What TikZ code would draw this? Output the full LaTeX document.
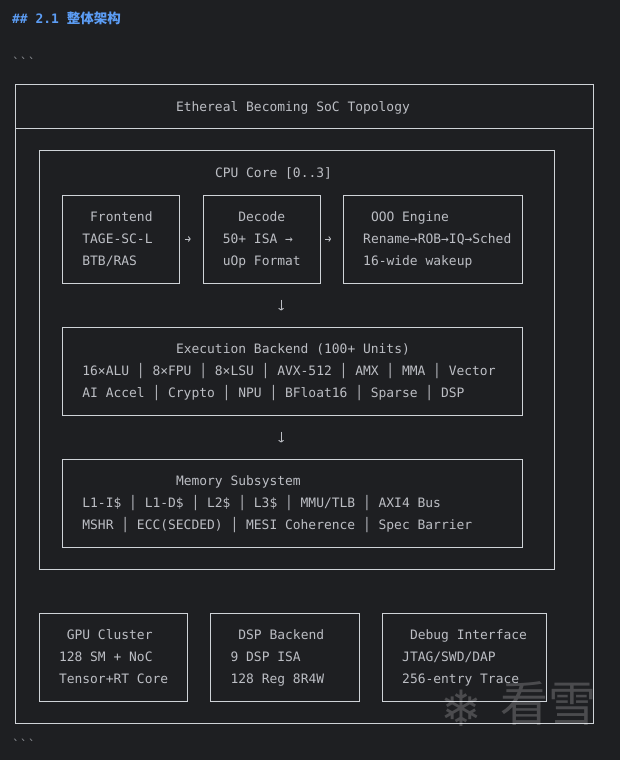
\documentclass[tikz,border=0pt]{standalone}
\usepackage{fontspec}
\setmonofont{DejaVu Sans Mono}
\newfontfamily\cjkfont{Noto Sans CJK SC}
\newfontfamily\symfont{DejaVu Sans}
\usetikzlibrary{arrows.meta}

\definecolor{bgdark}{HTML}{1E1F22}
\definecolor{boxline}{HTML}{CFD3D8}
\definecolor{txtgray}{HTML}{BCBEC4}
\definecolor{tickgray}{HTML}{8A8D92}
\definecolor{headblue}{HTML}{5C9DF5}

\tikzset{
  box/.style={draw=boxline, line width=1pt, inner sep=0pt},
  txt/.style={anchor=west, inner sep=0pt, text=txtgray,
    font=\ttfamily\fontsize{12.95}{15}\selectfont, text height=9.4pt, text depth=0pt},
  arr/.style={draw=txtgray, line width=0.9pt, -{To[length=2.6pt,width=5.5pt]}},
}

% box on the character grid: name, first col, last col, top row, bottom row
\newcommand{\asciibox}[5]{%
  \node[box, minimum width={(#3-#2)*7.8pt}, minimum height={(#5-#4)*22pt}]
    (#1) at ({(#2+#3)/2},{(#4+#5)/2}) {};}

\begin{document}
\begin{tikzpicture}[x=7.8pt, y=-22pt]
\fill[bgdark] (-15.9pt,85pt) rectangle (604.1pt,-675pt);
\useasboundingbox (-15.9pt,85pt) rectangle (604.1pt,-675pt);

% heading and fences
\node[txt, text=headblue, font=\ttfamily\bfseries\fontsize{12.95}{15}\selectfont] (head) at (-0.5,-3)
  {\#\# 2.1 {\cjkfont\bfseries\fontsize{13.5}{15}\selectfont 整体架构}};
\node[txt, text=tickgray] (fence1) at (-0.5,-1) {\textasciigrave\textasciigrave\textasciigrave};
\node[txt, text=tickgray] (fence2) at (-0.5,30) {\textasciigrave\textasciigrave\textasciigrave};

% outer frame
\asciibox{soc}{0}{74}{0}{29}
\draw[boxline, line width=1pt] (soc.west |- 0,2) -- (soc.east |- 0,2);
\node[txt] (title) at (20.5,1) {Ethereal Becoming SoC Topology};

% cpu core
\asciibox{cpu}{3}{69}{3}{22}
\node[txt] (cpuname) at (25.5,4) {CPU Core [0..3]};

\asciibox{front}{6}{21}{5}{9}
\node[txt] (fe1) at (9.5,6) {Frontend};
\node[txt] (fe2) at (8.5,7) {TAGE-SC-L};
\node[txt] (fe3) at (8.5,8) {BTB/RAS};

\asciibox{dec}{24}{39}{5}{9}
\node[txt] (de1) at (28.5,6) {Decode};
\node[txt] (de2) at (26.5,7) {50+ ISA →};
\node[txt] (de3) at (26.5,8) {uOp Format};

\asciibox{ooo}{42}{65}{5}{9}
\node[txt] (oo1) at (45.5,6) {OOO Engine};
\node[txt] (oo2) at (44.5,7) {Rename→ROB→IQ→Sched};
\node[txt] (oo3) at (44.5,8) {16-wide wakeup};

\draw[arr, shorten <=4.3pt, shorten >=12pt] (front.east) -- (dec.west);
\draw[arr, shorten <=4.3pt, shorten >=12pt] (dec.east) -- (ooo.west);

\asciibox{exec}{6}{65}{11}{15}
\node[txt] (ex1) at (20.5,12) {Execution Backend (100+ Units)};
\node[txt] (ex2) at (8.5,13) {16×ALU │ 8×FPU │ 8×LSU │ AVX-512 │ AMX │ MMA │ Vector};
\node[txt] (ex3) at (8.5,14) {AI Accel │ Crypto │ NPU │ BFloat16 │ Sparse │ DSP};

\asciibox{mem}{6}{65}{17}{21}
\node[txt] (me1) at (20.5,18) {Memory Subsystem};
\node[txt] (me2) at (8.5,19) {L1-I\$ │ L1-D\$ │ L2\$ │ L3\$ │ MMU/TLB │ AXI4 Bus};
\node[txt] (me3) at (8.5,20) {MSHR │ ECC(SECDED) │ MESI Coherence │ Spec Barrier};

\coordinate (down) at (34,0);
\draw[arr, shorten <=16pt, shorten >=16pt] (down |- dec.south) -- (down |- exec.north);
\draw[arr, shorten <=16pt, shorten >=16pt] (down |- exec.south) -- (down |- mem.north);

% blocks outside the cores
\asciibox{gpu}{3}{22}{24}{28}
\node[txt] (gp1) at (6.5,25) {GPU Cluster};
\node[txt] (gp2) at (5.5,26) {128 SM + NoC};
\node[txt] (gp3) at (5.5,27) {Tensor+RT Core};

\asciibox{dsp}{25}{44}{24}{28}
\node[txt] (ds1) at (28.5,25) {DSP Backend};
\node[txt] (ds2) at (27.5,26) {9 DSP ISA};
\node[txt] (ds3) at (27.5,27) {128 Reg 8R4W};

\asciibox{dbg}{47}{68}{24}{28}
\node[txt] (db1) at (50.5,25) {Debug Interface};
\node[txt] (db2) at (49.5,26) {JTAG/SWD/DAP};
\node[txt] (db3) at (49.5,27) {256-entry Trace};

% watermark
\node[font=\symfont\fontsize{50}{50}\selectfont, text=white, opacity=0.2] (flake) at (446pt,-623pt) {❄};
\node[font=\cjkfont\fontsize{48}{48}\selectfont, text=white, opacity=0.2] (mark) at (533pt,-618pt) {看雪};
\end{tikzpicture}
\end{document}
